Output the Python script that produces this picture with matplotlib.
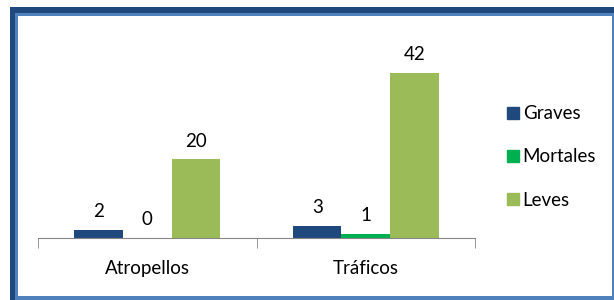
import matplotlib.pyplot as plt
from matplotlib.patches import Rectangle, Patch

# Data
categories = ['Atropellos', 'Tráficos']
series_names = ['Graves', 'Mortales', 'Leves']
graves = [2, 3]
mortales = [0, 1]
leves = [20, 42]
colors = ['#1F497D', '#00B050', '#9BBB59']

plt.rcParams['font.family'] = ['Lato', 'DejaVu Sans']
FS = 13.5

W, H = 614, 300
fig = plt.figure(figsize=(W / 100, H / 100), dpi=100)

# frame around the chart (dark outer line, lighter inner line)
def px_rect(x0, y0, x1, y1, color):
    fig.patches.append(Rectangle((x0 / W, 1 - y1 / H), (x1 - x0) / W, (y1 - y0) / H,
                                 transform=fig.transFigure, color=color, lw=0, zorder=0))

px_rect(10, 7, 614, 13, '#1F497D')
px_rect(10, 7, 15, 300, '#1F497D')
px_rect(15, 13, 614, 16, '#4F81BD')
px_rect(15, 13, 18, 300, '#4F81BD')
px_rect(612, 13, 614, 300, '#4F81BD')
px_rect(15, 296, 614, 300, '#4F81BD')

ax = fig.add_axes([38 / W, 1 - 238 / H, (475 - 38) / W, (238 - 61) / H])
ax.patch.set_alpha(0)

width = 1 / 4.5
xs = range(len(categories))
for i, (vals, name) in enumerate(zip([graves, mortales, leves], series_names)):
    pos = [x + (i - 1) * width for x in xs]
    bars = ax.bar(pos, vals, width, color=colors[i], label=name)
    for b, v in zip(bars, vals):
        ax.annotate(str(v), (b.get_x() + b.get_width() / 2, v), xytext=(0, 7),
                    textcoords='offset points', ha='center', va='bottom',
                    fontsize=FS, color='#000000')

ax.set_xlim(-0.5, 1.5)
ax.set_ylim(0, 45)
for s in ['top', 'right', 'left']:
    ax.spines[s].set_visible(False)
ax.spines['bottom'].set_color('#868686')
ax.set_yticks([])
ax.set_xticks(list(xs))
ax.set_xticklabels(categories, fontsize=FS)
ax.tick_params(axis='x', which='major', length=0, pad=16)
ax.set_xticks([-0.5, 0.5, 1.5], minor=True)
ax.tick_params(axis='x', which='minor', length=7, color='#868686')

handles = [Patch(color=c, label=n) for c, n in zip(colors, series_names)]
fig.legend(handles=handles, loc='center left', bbox_to_anchor=(498 / W, 1 - 157 / H),
           frameon=False, fontsize=FS, handlelength=0.62, handleheight=0.62,
           handletextpad=0.2, labelspacing=1.4, borderpad=0)

fig.savefig('out.png', dpi=100)
